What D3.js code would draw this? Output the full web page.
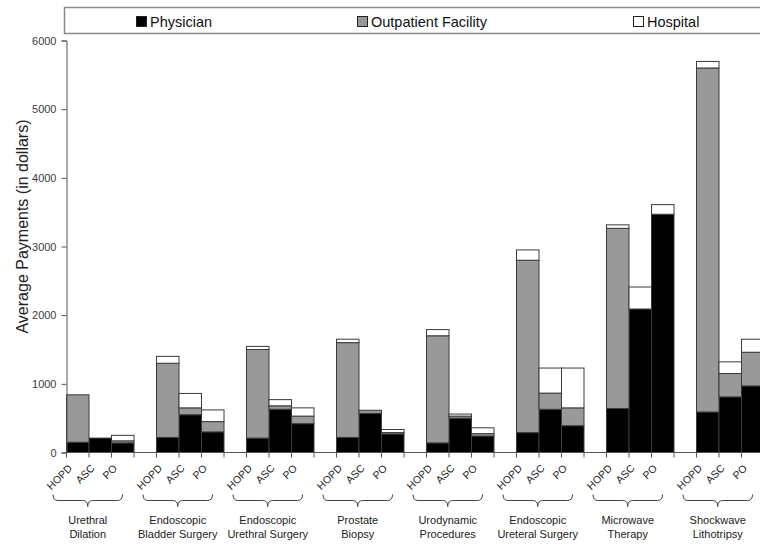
<!DOCTYPE html>
<html>
<head>
<meta charset="utf-8">
<script src="https://cdn.jsdelivr.net/npm/d3@7/dist/d3.min.js"></script>
<style>
  html, body { margin: 0; padding: 0; background: #fff; }
  svg { display: block; font-family: "Liberation Sans", Arial, sans-serif; }
</style>
</head>
<body>
<svg id="chart" width="760" height="545"></svg>
<script>
// ---- data ----
const groups = [
  ["Urethral", "Dilation"],
  ["Endoscopic", "Bladder Surgery"],
  ["Endoscopic", "Urethral Surgery"],
  ["Prostate", "Biopsy"],
  ["Urodynamic", "Procedures"],
  ["Endoscopic", "Ureteral Surgery"],
  ["Microwave", "Therapy"],
  ["Shockwave", "Lithotripsy"]
];
const settings = ["HOPD", "ASC", "PO"];
const seriesNames = ["Physician", "Outpatient Facility", "Hospital"];
// values per group: [HOPD, ASC, PO]
const physician = [
  [150, 210, 140], [220, 550, 300], [210, 630, 420], [220, 570, 270],
  [140, 500, 240], [290, 630, 390], [640, 2090, 3470], [590, 810, 970]
];
const outpatient = [
  [690, 0, 30], [1080, 100, 150], [1290, 50, 110], [1380, 45, 20],
  [1560, 30, 35], [2510, 235, 260], [2625, 0, 0], [5010, 340, 490]
];
const hospital = [
  [0, 0, 80], [100, 210, 170], [45, 90, 120], [50, 0, 45],
  [90, 30, 85], [150, 365, 580], [50, 320, 140], [95, 170, 190]
];
const yTicks = [0, 1000, 2000, 3000, 4000, 5000, 6000];

// ---- build table ----
const keys = ["physician", "outpatient", "hospital"];
const rows = [];
groups.forEach((g, gi) => {
  settings.forEach((s, si) => {
    rows.push({
      slot: gi * 4 + si, group: gi, setting: s,
      physician: physician[gi][si],
      outpatient: outpatient[gi][si],
      hospital: hospital[gi][si]
    });
  });
});
const slots = d3.range(groups.length * 4);

const svg = d3.select("#chart");
const x0 = 66.5, slotW = 22.5;
const x = d3.scaleBand().domain(slots).range([x0, x0 + slotW * slots.length]).padding(0);
const y = d3.scaleLinear().domain([0, 6000]).range([452.5, 40.5]);

const fills = { physician: "#000000", outpatient: "#999999", hospital: "#ffffff" };

// ---- bars ----
const stack = d3.stack().keys(keys);
const stacked = stack(rows);
const gBars = svg.append("g");
stacked.forEach(layer => {
  gBars.selectAll(null)
    .data(layer.filter(d => d[1] - d[0] > 0))
    .join("rect")
    .attr("x", d => x(d.data.slot))
    .attr("width", x.bandwidth())
    .attr("y", d => y(d[1]))
    .attr("height", d => y(d[0]) - y(d[1]))
    .attr("fill", fills[layer.key])
    .attr("stroke", "#3a3a3a")
    .attr("stroke-width", 1);
});

// ---- y axis ----
const yAxis = d3.axisLeft(y).tickValues(yTicks).tickSize(5).tickPadding(5).tickFormat(d3.format("d"));
const gy = svg.append("g").attr("transform", `translate(${x0},0)`).call(yAxis);
gy.select(".domain").attr("stroke", "#555");
gy.selectAll(".tick line").attr("stroke", "#555");
gy.selectAll(".tick text").attr("fill", "#3c3c3c").style("font-size", "11px")
  .style("font-family", "'Liberation Sans', Arial, sans-serif");

svg.append("text")
  .attr("transform", `translate(28,${y(3000) - 20}) rotate(-90)`)
  .attr("text-anchor", "middle")
  .attr("fill", "#222")
  .style("font-size", "16px")
  .text("Average Payments (in dollars)");

// ---- x axis ----
const xAxisY = y(0);
svg.append("line")
  .attr("x1", x0).attr("x2", 760)
  .attr("y1", xAxisY).attr("y2", xAxisY)
  .attr("stroke", "#555");
svg.append("g").selectAll("line")
  .data(d3.range(slots.length + 1))
  .join("line")
  .attr("x1", i => x0 + i * slotW).attr("x2", i => x0 + i * slotW)
  .attr("y1", xAxisY).attr("y2", xAxisY + 5)
  .attr("stroke", "#555");

// setting labels
svg.append("g").selectAll("text")
  .data(rows)
  .join("text")
  .attr("transform", d => `translate(${x(d.slot) + slotW / 2 - 5},${469}) rotate(-45)`)
  .attr("text-anchor", "end")
  .attr("fill", "#222")
  .style("font-size", "10.5px")
  .text(d => d.setting);

// braces and group labels
const braceG = svg.append("g");
groups.forEach((g, gi) => {
  const gx1 = x(gi * 4) - 13.5;
  const gx2 = x(gi * 4 + 2) + slotW - 11.5;
  const mid = (gx1 + gx2) / 2;
  const top = 494.5, h = 12, r = 5;
  const p = d3.path();
  p.moveTo(gx1, top);
  p.quadraticCurveTo(gx1, top + h / 2, gx1 + r, top + h / 2);
  p.lineTo(mid - r, top + h / 2);
  p.quadraticCurveTo(mid, top + h / 2, mid, top + h);
  p.quadraticCurveTo(mid, top + h / 2, mid + r, top + h / 2);
  p.lineTo(gx2 - r, top + h / 2);
  p.quadraticCurveTo(gx2, top + h / 2, gx2, top);
  braceG.append("path").attr("d", p.toString())
    .attr("fill", "none").attr("stroke", "#444").attr("stroke-width", 1);
  const t = braceG.append("text")
    .attr("text-anchor", "middle")
    .attr("fill", "#222")
    .style("font-size", "11px");
  g.forEach((line, li) => {
    t.append("tspan").attr("x", mid).attr("y", 524 + li * 14).text(line);
  });
});

// ---- legend ----
svg.append("rect")
  .attr("x", 64.5).attr("y", 7.5).attr("width", 760).attr("height", 26)
  .attr("fill", "#fff").attr("stroke", "#888").attr("stroke-width", 1.5);
const legendX = [136, 357, 633];
const legendFill = ["#000000", "#999999", "#ffffff"];
seriesNames.forEach((n, i) => {
  svg.append("rect")
    .attr("x", legendX[i] + 0.5).attr("y", 16.5).attr("width", 10).attr("height", 10)
    .attr("fill", legendFill[i]).attr("stroke", "#222").attr("stroke-width", 1);
  svg.append("text")
    .attr("x", legendX[i] + 14).attr("y", 26.5)
    .attr("fill", "#111")
    .style("font-size", "14.5px")
    .text(n);
});
</script>
</body>
</html>
